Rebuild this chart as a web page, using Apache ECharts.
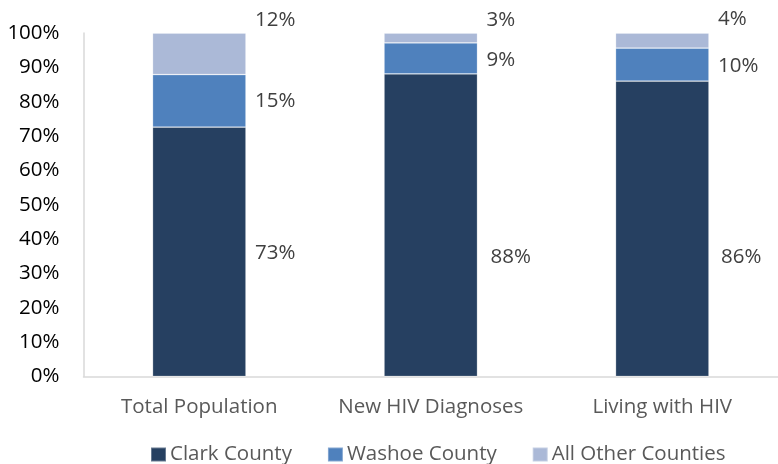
<!DOCTYPE html>
<html><head><meta charset="utf-8">
<script src="https://cdn.jsdelivr.net/npm/echarts@6/dist/echarts.min.js"></script>
<style>html,body{margin:0;padding:0;background:#fff}#c{width:778px;height:464px}</style>
</head><body><div id="c"></div>
<script>
const categories = ["Total Population", "New HIV Diagnoses", "Living with HIV"];
const clark = [72.6, 88.1, 86.0];
const washoe = [15.3, 9.0, 9.6];
const other = [12.1, 2.9, 4.4];
const seriesNames = ["Clark County", "Washoe County", "All Other Counties"];
const yTicks = [0, 10, 20, 30, 40, 50, 60, 70, 80, 90, 100];

const colors = ["#264061", "#4f81bd", "#abb9d7"];
const labelDx = [[0, 4, 3], [0, 0, 0], [0, 0, 0]];
const labelDy = [[1, 32, 28], [0, 2, 2], [-34, -18, -21]];
const FONT = "Open Sans";
const FS = 20.5;

const chart = echarts.init(document.getElementById('c'), null, {renderer: 'canvas'});
const vals = [clark, washoe, other];
chart.setOption({
  animation: false,
  textStyle: {fontFamily: FONT},
  grid: {left: 83.5, top: 33, width: 701.4, bottom: 87.5, containLabel: false},
  legend: {
    data: seriesNames, left: 145, top: 439, itemWidth: 15, itemHeight: 14, itemGap: 35,
    icon: 'rect', textStyle: {fontFamily: FONT, fontSize: FS, color: '#595959', padding: [0,0,0,-1]}
  },
  xAxis: {
    type: 'category', data: categories,
    axisLine: {lineStyle: {color: '#d9d9d9', width: 1.5}}, axisTick: {show: false},
    axisLabel: {fontSize: FS, color: '#595959', margin: 20, fontFamily: FONT, interval: 0, hideOverlap: false}
  },
  yAxis: {
    type: 'value', min: 0, max: 100, interval: 10,
    axisLine: {show: true, lineStyle: {color: '#d9d9d9', width: 1.5}}, axisTick: {show: false},
    splitLine: {show: false},
    axisLabel: {fontSize: FS, color: '#000', margin: 24, fontFamily: FONT,
      formatter: v => yTicks.includes(v) ? v + '%' : ''}
  },
  series: seriesNames.map((n, s) => ({
    name: n, type: 'bar', stack: 'a', barWidth: 93.5,
    itemStyle: {color: colors[s], borderColor: 'rgba(255,255,255,0.3)', borderWidth: 0.8},
    data: vals[s].map((v, i) => ({
      value: v,
      label: {show: true, position: 'right', distance: 9, offset: [labelDx[s][i], labelDy[s][i]],
        formatter: p => Math.round(p.value) + '%', fontSize: FS, color: '#404040', fontFamily: FONT}
    }))
  }))
});
</script></body></html>
